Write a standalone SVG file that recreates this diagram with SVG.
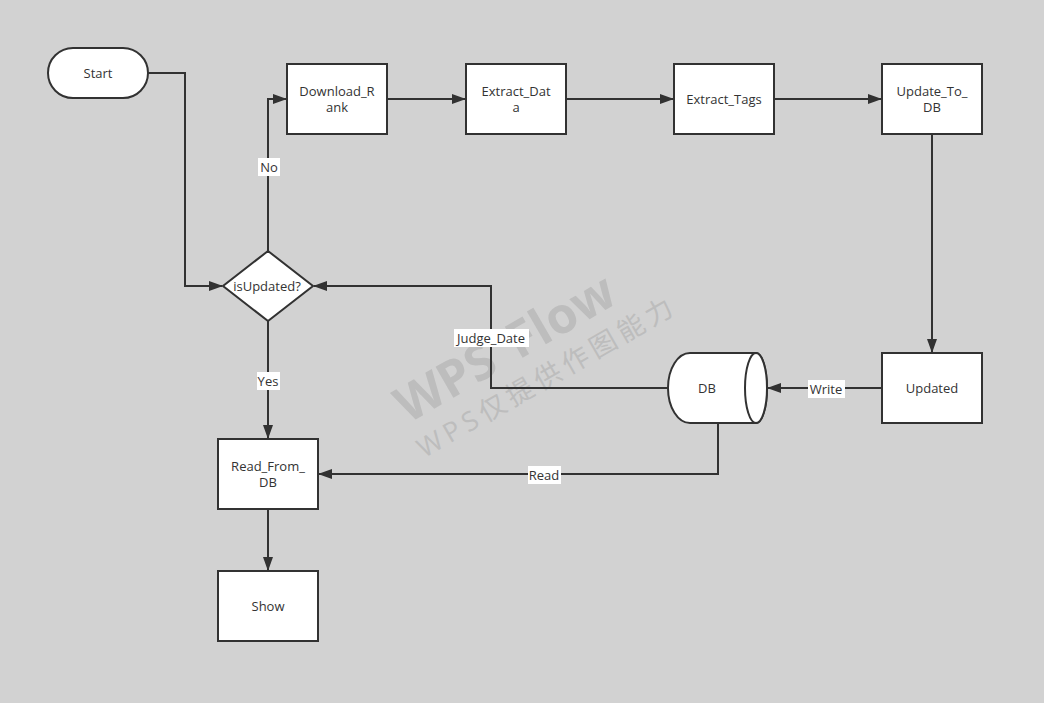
<svg xmlns="http://www.w3.org/2000/svg" width="1044" height="703" viewBox="0 0 1044 703">
<defs>
<marker id="arr" markerWidth="14" markerHeight="12" refX="13" refY="6" orient="auto" markerUnits="userSpaceOnUse">
<path d="M0,1 L14,6 L0,11 Z" fill="#323232"/>
</marker>
<style>
.n{fill:#fff;stroke:#323232;stroke-width:2}
.t{font-family:"Open Sans","Noto Sans","Liberation Sans",sans-serif;font-size:13px;fill:#333;text-anchor:middle}
.c{fill:none;stroke:#323232;stroke-width:2}
.lb{fill:#fff}
.wm{font-family:"Open Sans","Noto Sans","Noto Sans CJK SC",sans-serif;fill:#bdbdbd;text-anchor:middle}
</style>
</defs>
<rect width="1044" height="703" fill="#d2d2d2"/>
<g id="watermark" transform="rotate(-30 520 350)">
<text class="wm" x="508" y="358" font-size="50" font-weight="bold" word-spacing="8">WPS Flow</text>
<text class="wm" x="530" y="396" font-size="27" letter-spacing="5">WPS仅提供作图能力</text>
</g>
<g id="connectors">
<polyline class="c" points="148,73 185,73 185,286 222,286" marker-end="url(#arr)"/>
<polyline class="c" points="268,251 268,99 286,99" marker-end="url(#arr)"/>
<line class="c" x1="387" y1="99" x2="465" y2="99" marker-end="url(#arr)"/>
<line class="c" x1="566" y1="99" x2="673" y2="99" marker-end="url(#arr)"/>
<line class="c" x1="774" y1="99" x2="881" y2="99" marker-end="url(#arr)"/>
<line class="c" x1="932" y1="134" x2="932" y2="352" marker-end="url(#arr)"/>
<line class="c" x1="882" y1="388" x2="768" y2="388" marker-end="url(#arr)"/>
<polyline class="c" points="668,388 491,388 491,286 314,286" marker-end="url(#arr)"/>
<polyline class="c" points="718,423 718,474 319,474" marker-end="url(#arr)"/>
<line class="c" x1="268" y1="321" x2="268" y2="438" marker-end="url(#arr)"/>
<line class="c" x1="268" y1="509" x2="268" y2="570" marker-end="url(#arr)"/>
<rect class="lb" x="258" y="158" width="22" height="18"/>
<text class="t" x="269" y="172">No</text>
<rect class="lb" x="257" y="372" width="23" height="18"/>
<text class="t" x="268" y="386">Yes</text>
<rect class="lb" x="454" y="329" width="75" height="18"/>
<text class="t" x="491" y="343">Judge_Date</text>
<rect class="lb" x="808" y="380" width="37" height="18"/>
<text class="t" x="826" y="394">Write</text>
<rect class="lb" x="528" y="466" width="33" height="18"/>
<text class="t" x="544" y="480">Read</text>
</g>
<g id="start">
<rect class="n" x="48" y="48" width="100" height="50" rx="25" ry="25"/>
<text class="t" x="98" y="78">Start</text>
</g>
<g id="download_rank">
<rect class="n" x="287" y="64" width="100" height="70"/>
<text class="t" x="337" y="96">Download_R</text>
<text class="t" x="337" y="112">ank</text>
</g>
<g id="extract_data">
<rect class="n" x="466" y="64" width="100" height="70"/>
<text class="t" x="516" y="96">Extract_Dat</text>
<text class="t" x="516" y="112">a</text>
</g>
<g id="extract_tags">
<rect class="n" x="674" y="64" width="100" height="70"/>
<text class="t" x="724" y="104">Extract_Tags</text>
</g>
<g id="update_to_db">
<rect class="n" x="882" y="64" width="100" height="70"/>
<text class="t" x="932" y="96">Update_To_</text>
<text class="t" x="932" y="112">DB</text>
</g>
<g id="updated">
<rect class="n" x="882" y="353" width="100" height="70"/>
<text class="t" x="932" y="393">Updated</text>
</g>
<g id="db">
<path class="n" d="M756,353 L690,353 A22,35 0 0 0 690,423 L756,423 A11,35 0 0 0 756,353 Z"/>
<ellipse class="n" cx="756" cy="388" rx="11" ry="35"/>
<text class="t" x="707" y="393">DB</text>
</g>
<g id="isupdated">
<polygon class="n" points="268,251 313,286 268,321 223,286"/>
<text class="t" x="267" y="291">isUpdated?</text>
</g>
<g id="read_from_db">
<rect class="n" x="218" y="439" width="100" height="70"/>
<text class="t" x="268" y="471">Read_From_</text>
<text class="t" x="268" y="487">DB</text>
</g>
<g id="show">
<rect class="n" x="218" y="571" width="100" height="70"/>
<text class="t" x="268" y="611">Show</text>
</g>
</svg>
